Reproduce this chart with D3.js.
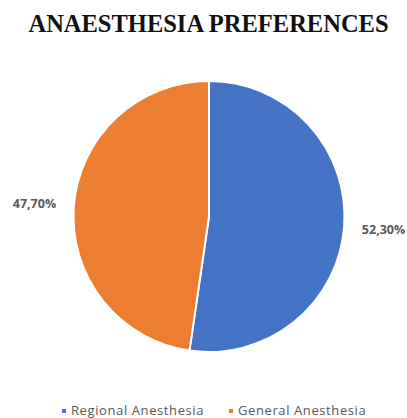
<!DOCTYPE html>
<html>
<head>
<meta charset="utf-8">
<script src="https://cdn.jsdelivr.net/npm/d3@7"></script>
<style>
  body { margin: 0; background: #fff; }
  svg { display: block; }
</style>
</head>
<body>
<div id="chart"></div>
<script>
// chart data
const categories = ['Regional Anesthesia', 'General Anesthesia']
const values = [52.3, 47.7]
const valueLabels = ['52,30%', '47,70%']
const colors = ['#4472C4', '#ED7D31']

const width = 407
const height = 418
const cx = 209
const cy = 216.5
const radius = 135.5
const labelRadius = 175

const svg = d3.select('#chart')
  .append('svg')
  .attr('width', width)
  .attr('height', height)

svg.append('text')
  .attr('x', 208.5)
  .attr('y', 32)
  .attr('text-anchor', 'middle')
  .attr('font-family', '"Liberation Serif", "Times New Roman", serif')
  .attr('font-weight', 'bold')
  .attr('font-size', '24.5px')
  .attr('fill', '#111')
  .text('ANAESTHESIA PREFERENCES')

const pie = d3.pie().sort(null).value(d => d)
const arcs = pie(values)

const arc = d3.arc().innerRadius(0).outerRadius(radius)
const labelArc = d3.arc().innerRadius(labelRadius).outerRadius(labelRadius)

const g = svg.append('g')
  .attr('transform', `translate(${cx}, ${cy})`)

g.selectAll('.slice')
  .data(arcs)
  .enter()
  .append('path')
  .attr('class', 'slice')
  .attr('d', arc)
  .attr('fill', (d, i) => colors[i])
  .attr('stroke', '#fff')
  .attr('stroke-width', 2)

g.selectAll('.value-label')
  .data(arcs)
  .enter()
  .append('text')
  .attr('class', 'value-label')
  .attr('transform', d => `translate(${labelArc.centroid(d)})`)
  .attr('text-anchor', 'middle')
  .attr('dy', '0.35em')
  .attr('font-family', '"Open Sans", Lato, sans-serif')
  .attr('font-weight', 'bold')
  .attr('font-size', '12.5px')
  .attr('fill', '#595959')
  .text((d, i) => valueLabels[i])

// legend
const legendX = [62, 229]
const legend = svg.selectAll('.legend')
  .data(categories)
  .enter()
  .append('g')
  .attr('class', 'legend')
  .attr('transform', (d, i) => `translate(${legendX[i]}, 415)`)

legend.append('rect')
  .attr('x', 0)
  .attr('y', -6)
  .attr('width', 4)
  .attr('height', 4)
  .attr('fill', (d, i) => colors[i])

legend.append('text')
  .attr('x', 9)
  .attr('y', 0)
  .attr('font-family', '"Open Sans", Lato, sans-serif')
  .attr('font-size', '13px')
  .attr('letter-spacing', '0.6px')
  .attr('fill', '#595959')
  .text(d => d)
</script>
</body>
</html>
